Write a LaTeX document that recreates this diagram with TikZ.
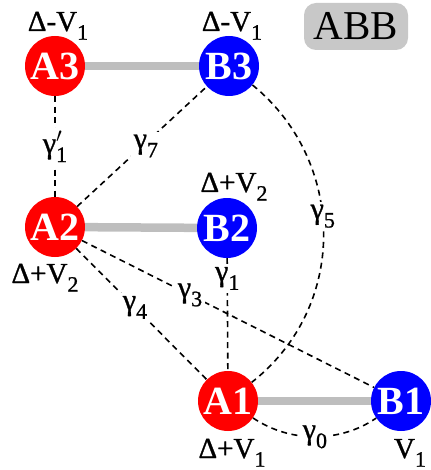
\documentclass[tikz,border=0pt]{standalone}
\usepackage{fontspec}
\setmainfont{Liberation Serif}
\newfontfamily\labfont[FakeBold=1]{Liberation Serif}
\definecolor{bondgray}{RGB}{190,190,190}
\definecolor{boxgray}{RGB}{200,200,200}
\newcommand{\lsub}[1]{\raisebox{-0.3em}{\fontsize{22}{22}\selectfont #1}}
\newcommand{\gprime}[1]{γ\rlap{\raisebox{0.05em}{\fontsize{28}{28}\selectfont$'$}}\lsub{#1}}
\tikzset{
  anode/.style={circle, fill=red, minimum size=60pt, inner sep=0pt, text=white,
    font=\fontsize{40}{40}\selectfont\bfseries},
  bnode/.style={anode, fill=blue},
  bond/.style={line width=8.5pt, draw=bondgray},
  gline/.style={line width=1.6pt, dash pattern=on 6pt off 4.5pt},
  glab/.style={fill=white, inner sep=3pt, font=\labfont\fontsize{30}{30}\selectfont},
  vlab/.style={inner sep=0pt, anchor=base, font=\labfont\fontsize{29}{29}\selectfont},
}
\begin{document}
\begin{tikzpicture}[x=1pt,y=-1pt]
\useasboundingbox (0,0) rectangle (430,470);
% nodes
\node[anode] (A3) at (55,66) {A3};
\node[bnode] (B3) at (229,66) {B3};
\node[anode] (A2) at (55,227) {A2};
\node[bnode] (B2) at (227,228) {B2};
\node[anode] (A1) at (228,401) {A1};
\node[bnode] (B1) at (401,401) {B1};
% bonds
\draw[bond] (A3) -- (B3);
\draw[bond] (A2) -- (B2);
\draw[bond] (A1) -- (B1);
% dashed couplings
\draw[gline] (A3) -- node[glab, pos=0.5] {\gprime{1}} (A2);
\draw[gline] (A2) -- node[glab, pos=0.53, yshift=-3pt] {γ\lsub{7}} (B3);
\draw[gline] (B2) -- node[glab, pos=0.18] {γ\lsub{1}} (A1);
\draw[gline] (A2) -- node[glab, pos=0.37] {γ\lsub{3}} (B1);
\draw[gline] (A2) -- node[glab, pos=0.45] {γ\lsub{4}} (A1);
\draw[gline] (B3) .. controls (345,160) and (350,305) .. node[glab, pos=0.45] {γ\lsub{5}} (A1);
\draw[gline] (A1) .. controls (290,443) and (340,443) .. node[glab, pos=0.5] {γ\lsub{0}} (B1);
% energy labels
\node[vlab] (tA3) at (58,31) {Δ-V\lsub{1}};
\node[vlab] (tB3) at (232,31) {Δ-V\lsub{1}};
\node[vlab] (tB2) at (234,192) {Δ+V\lsub{2}};
\node[vlab] (tA2) at (45,283) {Δ+V\lsub{2}};
\node[vlab] (tA1) at (232,458) {Δ+V\lsub{1}};
\node[vlab] (tB1) at (410,458) {V\lsub{1}};
% title box
\node[fill=boxgray, rounded corners=12pt, minimum width=104pt, minimum height=47pt,
  inner sep=0pt, font=\fontsize{41}{41}\selectfont] (title) at (356,26.5) {ABB};
\end{tikzpicture}
\end{document}
